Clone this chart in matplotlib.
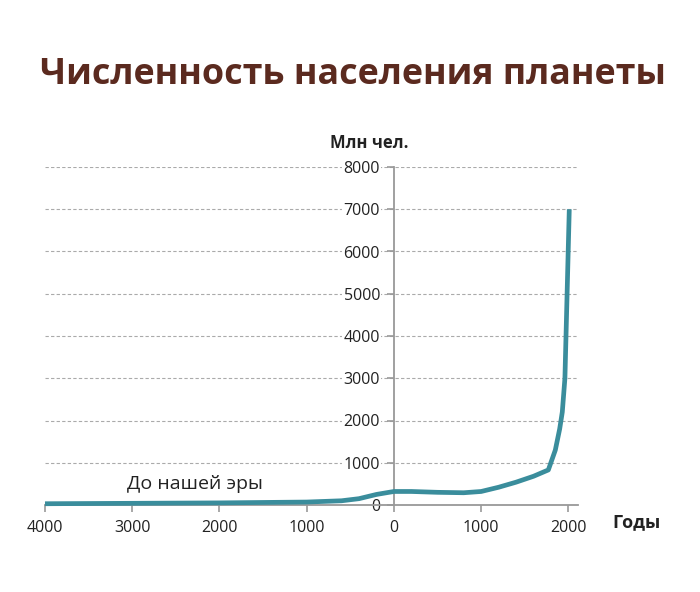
import matplotlib.pyplot as plt

plt.rcParams['font.family'] = ['Open Sans', 'DejaVu Sans']

# population, millions
years = [-4000, -3000, -2000, -1000, -600, -400, -200, 0, 200, 500, 800, 1000,
         1200, 1400, 1600, 1770, 1850, 1900, 1930, 1960, 1985, 2010]
pop = [30, 40, 50, 70, 100, 150, 250, 320, 320, 300, 290, 320,
       420, 540, 680, 830, 1300, 1800, 2200, 3000, 5000, 7000]

xticks = [-4000, -3000, -2000, -1000, 0, 1000, 2000]
xlabels = ['4000', '3000', '2000', '1000', '0', '1000', '2000']
yticks = [0, 1000, 2000, 3000, 4000, 5000, 6000, 7000, 8000]

fig = plt.figure(figsize=(7, 5.92), dpi=100)
ax = fig.add_axes([45 / 700, 87 / 592, 533 / 700, 338 / 592])

ax.set_xlim(-4000, 2110)
ax.set_ylim(0, 8000)

for v in yticks[1:]:
    ax.axhline(v, color='#aaaaaa', linestyle=(0, (3, 2)), linewidth=0.8, zorder=1)

ax.plot(years, pop, color='#3a8d9c', linewidth=3.4, solid_capstyle='butt',
        clip_on=False, zorder=3)

for s in ['top', 'right']:
    ax.spines[s].set_visible(False)
ax.spines['left'].set_position(('data', 0))
ax.spines['left'].set_color('#999999')
ax.spines['bottom'].set_color('#999999')
ax.spines['left'].set_linewidth(1.3)
ax.spines['bottom'].set_linewidth(1.3)
ax.spines['left'].set_zorder(2)

ax.set_xticks(xticks)
ax.set_xticklabels(xlabels)
ax.set_yticks(yticks)
ax.set_yticklabels([str(v) for v in yticks])
ax.tick_params(axis='both', colors='#999999', labelcolor='#222222', labelsize=11.5,
               length=5, width=1.2)
ax.tick_params(axis='x', pad=6)
ax.tick_params(axis='y', pad=5)
for lab in ax.get_yticklabels():
    lab.set_bbox(dict(facecolor='white', edgecolor='none', pad=1))

fig.text(0.504, 0.873, 'Численность населения планеты', ha='center', va='center',
         fontsize=25.8, fontweight='bold', color='#5b2a1f')
fig.text(369 / 700, 1 - 143 / 592, 'Млн чел.', ha='center', va='center',
         fontsize=12, fontweight='bold', color='#222222')
fig.text(636 / 700, 1 - 522 / 592, 'Годы', ha='center', va='center',
         fontsize=13, fontweight='bold', color='#222222')
ax.text(-2280, 280, 'До нашей эры', ha='center', va='bottom',
        fontsize=14, color='#222222')

fig.savefig('out.png', dpi=100, facecolor='white')
